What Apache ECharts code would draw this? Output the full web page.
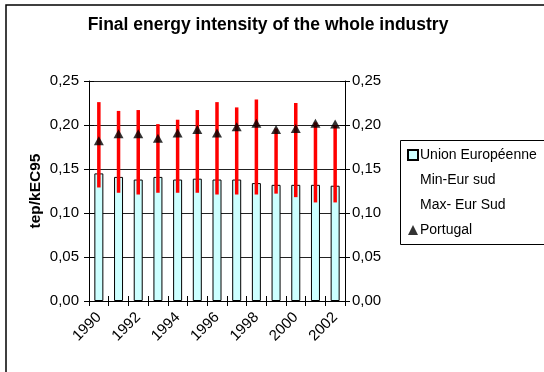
<!DOCTYPE html>
<html>
<head>
<meta charset="utf-8">
<script src="https://cdn.jsdelivr.net/npm/echarts@6/dist/echarts.min.js"></script>
<style>
  html, body { margin: 0; padding: 0; background: #fff; }
  #chart { width: 544px; height: 372px; }
</style>
</head>
<body>
<div id="chart"></div>
<script>
// Final energy intensity of industry (tep/kEC95), 1990-2002
const years = ['1990','1991','1992','1993','1994','1995','1996','1997','1998','1999','2000','2001','2002'];
const unionEuropeenne = [0.145, 0.141, 0.138, 0.141, 0.138, 0.139, 0.138, 0.138, 0.134, 0.132, 0.132, 0.132, 0.131];
const minEurSud = [0.129, 0.123, 0.121, 0.123, 0.123, 0.123, 0.121, 0.121, 0.121, 0.122, 0.118, 0.112, 0.112];
const maxEurSud = [0.226, 0.216, 0.217, 0.201, 0.206, 0.217, 0.226, 0.220, 0.229, 0.196, 0.225, 0.203, 0.200];
const portugal = [0.182, 0.190, 0.190, 0.185, 0.191, 0.195, 0.191, 0.198, 0.202, 0.195, 0.196, 0.202, 0.201];
const yTicks = { min: 0, max: 0.25, step: 0.05 };

const FONT = '"Liberation Sans", Arial, sans-serif';
const LABEL_SIZE = 15;
const commaFmt = v => v.toFixed(2).replace('.', ',');

const chart = echarts.init(document.getElementById('chart'), null, { renderer: 'canvas' });

const yAxisBase = {
  type: 'value',
  min: yTicks.min,
  max: yTicks.max,
  interval: yTicks.step,
  axisLine: { show: true, lineStyle: { color: '#000', width: 1 } },
  axisTick: { show: true, length: 5, lineStyle: { color: '#000' } },
  axisLabel: { color: '#000', fontFamily: FONT, fontSize: LABEL_SIZE, formatter: commaFmt },
  splitLine: { show: false }
};

// a twin axis that only draws the inner half of the crossing tick marks
const innerTicks = pos => Object.assign({}, yAxisBase, {
  position: pos,
  axisLine: { show: false },
  axisLabel: { show: false },
  axisTick: { show: true, inside: true, length: 5, lineStyle: { color: '#000' } }
});

chart.setOption({
  animation: false,
  backgroundColor: '#fff',
  title: {
    text: 'Final energy intensity of the whole industry',
    left: 263, textAlign: 'center', top: 11,
    textStyle: { fontFamily: FONT, fontSize: 17.5, fontWeight: 'bold', color: '#000' }
  },
  grid: { left: 89, right: 199, top: 81, bottom: 71 },
  legend: {
    orient: 'vertical',
    left: 402, top: 143,
    itemGap: 11,
    itemWidth: 10, itemHeight: 10,
    textStyle: { fontFamily: FONT, fontSize: 14, color: '#000', padding: [0, 0, 0, -3] },
    data: [
      { name: 'Union Européenne', icon: 'rect' },
      { name: 'Min-Eur sud', icon: 'none' },
      { name: 'Max- Eur Sud', icon: 'none' },
      { name: 'Portugal', icon: 'triangle' }
    ]
  },
  graphic: [
    { type: 'rect', shape: { x: 6, y: 5, width: 560, height: 380 },
      style: { fill: null, stroke: '#000', lineWidth: 1.5 }, z: -1 },
    { type: 'rect', shape: { x: 400.5, y: 140.5, width: 160, height: 104 },
      style: { fill: '#fff', stroke: '#000', lineWidth: 1 }, z: 0 }
  ],
  xAxis: [
    {
      type: 'category',
      data: years,
      axisLine: { lineStyle: { color: '#000', width: 1 } },
      axisTick: { show: true, interval: 0, length: 5, lineStyle: { color: '#000' } },
      axisLabel: { interval: 1, rotate: 45, color: '#000', fontFamily: FONT, fontSize: LABEL_SIZE, margin: 14 }
    },
    {
      type: 'category',
      data: years,
      position: 'bottom',
      axisLine: { show: false },
      axisTick: { show: true, inside: true, interval: 0, length: 5, lineStyle: { color: '#000' } },
      axisLabel: { show: false }
    }
  ],
  yAxis: [
    Object.assign({}, yAxisBase, {
      position: 'left',
      axisLabel: Object.assign({}, yAxisBase.axisLabel, { margin: 10 }),
      name: 'tep/kEC95',
      nameLocation: 'middle',
      nameGap: 45,
      nameTextStyle: { fontFamily: FONT, fontSize: 15.5, fontWeight: 'bold', color: '#000' },
      splitLine: { show: true, lineStyle: { color: '#222', width: 1 } }
    }),
    Object.assign({}, yAxisBase, {
      position: 'right',
      axisLabel: Object.assign({}, yAxisBase.axisLabel, { margin: 7 })
    }),
    innerTicks('left'),
    innerTicks('right')
  ],
  series: [
    {
      name: 'Union Européenne',
      type: 'bar',
      data: unionEuropeenne,
      barWidth: 9,
      itemStyle: { color: '#ccffff', borderColor: '#000', borderWidth: 1 },
      z: 2
    },
    {
      name: 'Min-Eur sud',
      type: 'line',
      data: minEurSud,
      showSymbol: false,
      lineStyle: { opacity: 0 },
      itemStyle: { color: '#ff0000' },
      z: 1
    },
    {
      name: 'Max- Eur Sud',
      type: 'line',
      data: maxEurSud,
      showSymbol: false,
      lineStyle: { opacity: 0 },
      itemStyle: { color: '#ff0000' },
      z: 1
    },
    {
      // high-low lines joining the southern-Europe minimum and maximum
      name: 'hilo',
      type: 'custom',
      data: years.map((y, i) => [i, minEurSud[i], maxEurSud[i]]),
      encode: { x: 0, y: [1, 2] },
      renderItem: function (params, api) {
        const lo = api.coord([api.value(0), api.value(1)]);
        const hi = api.coord([api.value(0), api.value(2)]);
        return {
          type: 'line',
          shape: { x1: lo[0], y1: lo[1], x2: hi[0], y2: hi[1] },
          style: { stroke: '#ff0000', lineWidth: 3.5 }
        };
      },
      z: 3
    },
    {
      name: 'Portugal',
      type: 'scatter',
      data: portugal,
      symbol: 'triangle',
      symbolSize: [10, 9],
      itemStyle: { color: '#000' },
      z: 4
    }
  ]
});
</script>
</body>
</html>
